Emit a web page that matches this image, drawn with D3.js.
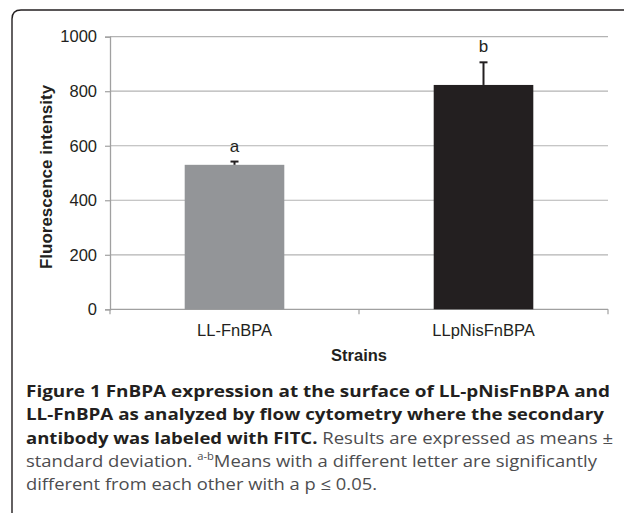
<!DOCTYPE html>
<html>
<head>
<meta charset="utf-8">
<script src="https://cdn.jsdelivr.net/npm/d3@7"></script>
<style>
  html, body { margin: 0; padding: 0; background: #fff; }
  svg { display: block; }
</style>
</head>
<body>
<div id="chart"></div>
<script>
// chart data
const strains = ["LL-FnBPA", "LLpNisFnBPA"];
const meanValues = [530, 823];
const sdValues = [12, 83];
const letters = ["a", "b"];
const barColors = ["#939598", "#231f20"];
const yTicks = [0, 200, 400, 600, 800, 1000];

// caption lines (as printed)
const captionLines = [
    [{t: "Figure 1 FnBPA expression at the surface of LL-pNisFnBPA and", b: true}],
    [{t: "LL-FnBPA as analyzed by flow cytometry where the secondary", b: true}],
    [{t: "antibody was labeled with FITC.", b: true}, {t: " Results are expressed as means \u00b1", b: false}],
    [{t: "standard deviation. ", b: false}, {t: "a-b", b: false, sup: true}, {t: "Means with a different letter are significantly", b: false}],
    [{t: "different from each other with a p \u2264 0.05.", b: false}]
];
const captionWidths = [584, 578, 587, 571, 351];

const W = 624, H = 513;
const plot = {left: 110, right: 608, top: 36.7, bottom: 309.3};
const axisFont = "Liberation Sans, Arial, sans-serif";

const svg = d3.select("#chart").append("svg")
    .attr("width", W)
    .attr("height", H);

// frame with rounded top-left corner
svg.append("path")
    .attr("d", "M12,520 L12,19 Q12,10 21,10 L630,10")
    .attr("fill", "none")
    .attr("stroke", "#231f20")
    .attr("stroke-width", 1.4);

const y = d3.scaleLinear().domain([0, 1000]).range([plot.bottom, plot.top]);
const x = d3.scaleBand().domain(strains).range([plot.left, plot.right]);
const barW = x.bandwidth() * 0.4;

// gridlines
svg.append("g")
    .selectAll("line")
    .data(yTicks.slice(1))
    .enter()
    .append("line")
    .attr("x1", plot.left)
    .attr("x2", plot.right)
    .attr("y1", d => y(d))
    .attr("y2", d => y(d))
    .attr("stroke", "#b3b3b3")
    .attr("stroke-width", 1.2);

// y axis
const yAxis = svg.append("g")
    .attr("transform", `translate(${plot.left},0)`)
    .call(d3.axisLeft(y).tickValues(yTicks).tickFormat(d3.format("d")).tickSize(5).tickPadding(8));
yAxis.select(".domain").attr("stroke", "#a0a0a0").attr("stroke-width", 1.3);
yAxis.selectAll(".tick line").attr("stroke", "#a0a0a0").attr("stroke-width", 1.2);
yAxis.selectAll(".tick text")
    .attr("font-family", axisFont)
    .attr("font-size", 16.5)
    .attr("fill", "#231f20");

// x axis line and boundary ticks
svg.append("line")
    .attr("x1", plot.left)
    .attr("x2", plot.right)
    .attr("y1", y(0))
    .attr("y2", y(0))
    .attr("stroke", "#a0a0a0")
    .attr("stroke-width", 1.3);

const bounds = strains.map(s => x(s)).concat([x(strains[strains.length - 1]) + x.bandwidth()]);
svg.append("g")
    .selectAll("line")
    .data(bounds)
    .enter()
    .append("line")
    .attr("x1", d => d)
    .attr("x2", d => d)
    .attr("y1", y(0))
    .attr("y2", y(0) + 5)
    .attr("stroke", "#a0a0a0")
    .attr("stroke-width", 1.2);

const xAxis = svg.append("g")
    .attr("transform", `translate(0,${y(0)})`)
    .call(d3.axisBottom(x).tickSize(0).tickPadding(15));
xAxis.select(".domain").remove();
xAxis.selectAll(".tick text")
    .attr("font-family", axisFont)
    .attr("font-size", 16.5)
    .attr("fill", "#231f20");

// bars
const data = strains.map((s, i) => ({s: s, v: meanValues[i], sd: sdValues[i], l: letters[i], c: barColors[i]}));

svg.append("g")
    .selectAll("rect")
    .data(data)
    .enter()
    .append("rect")
    .attr("x", d => x(d.s) + (x.bandwidth() - barW) / 2)
    .attr("width", barW)
    .attr("y", d => y(d.v))
    .attr("height", d => y(0) - y(d.v))
    .attr("fill", d => d.c);

// error bars (upper half)
const err = svg.append("g");
err.selectAll(".stem")
    .data(data)
    .enter()
    .append("line")
    .attr("x1", d => x(d.s) + x.bandwidth() / 2)
    .attr("x2", d => x(d.s) + x.bandwidth() / 2)
    .attr("y1", d => y(d.v))
    .attr("y2", d => y(d.v + d.sd))
    .attr("stroke", "#231f20")
    .attr("stroke-width", 2);
err.selectAll(".cap")
    .data(data)
    .enter()
    .append("line")
    .attr("x1", d => x(d.s) + x.bandwidth() / 2 - 4)
    .attr("x2", d => x(d.s) + x.bandwidth() / 2 + 4)
    .attr("y1", d => y(d.v + d.sd))
    .attr("y2", d => y(d.v + d.sd))
    .attr("stroke", "#231f20")
    .attr("stroke-width", 2);

// significance letters
svg.append("g")
    .selectAll("text")
    .data(data)
    .enter()
    .append("text")
    .attr("x", d => x(d.s) + x.bandwidth() / 2)
    .attr("y", d => y(d.v + d.sd) - 10)
    .attr("text-anchor", "middle")
    .attr("font-family", axisFont)
    .attr("font-size", 17)
    .attr("fill", "#231f20")
    .text(d => d.l);

// axis titles
svg.append("text")
    .attr("transform", `translate(52,${(plot.top + plot.bottom) / 2 + 4}) rotate(-90)`)
    .attr("text-anchor", "middle")
    .attr("font-family", axisFont)
    .attr("font-size", 17)
    .attr("font-weight", "bold")
    .attr("fill", "#231f20")
    .text("Fluorescence intensity");

svg.append("text")
    .attr("x", (plot.left + plot.right) / 2)
    .attr("y", 361)
    .attr("text-anchor", "middle")
    .attr("font-family", axisFont)
    .attr("font-size", 16.5)
    .attr("font-weight", "bold")
    .attr("fill", "#231f20")
    .text("Strains");

// caption
const cap = svg.append("g")
    .attr("font-family", "Open Sans, sans-serif")
    .attr("font-size", 16.5);

captionLines.forEach((parts, i) => {
    const t = cap.append("text")
        .attr("x", 26)
        .attr("y", 397 + i * 23.3)
        .attr("textLength", captionWidths[i])
        .attr("lengthAdjust", "spacingAndGlyphs");
    parts.forEach(p => {
        const ts = t.append("tspan")
            .attr("font-weight", p.b ? "bold" : "normal")
            .attr("fill", p.b ? "#231f20" : "#4d4d4f")
            .text(p.t);
        if (p.sup) {
            ts.attr("font-size", 10).attr("baseline-shift", "super");
        }
    });
});
</script>
</body>
</html>
